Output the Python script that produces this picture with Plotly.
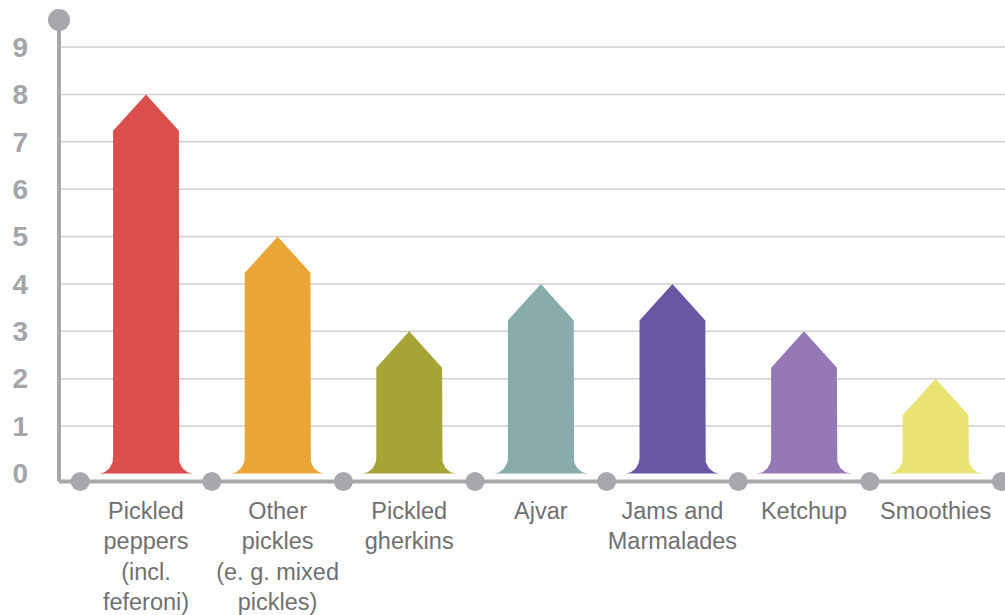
import math
import plotly.graph_objects as go

# Chart data
categories = [
    "Pickled<br>peppers<br>(incl.<br>feferoni)",
    "Other<br>pickles<br>(e. g. mixed<br>pickles)",
    "Pickled<br>gherkins",
    "Ajvar",
    "Jams and<br>Marmalades",
    "Ketchup",
    "Smoothies",
]
values = [8, 5, 3, 4, 4, 3, 2]
bar_colors = ["#DA4F4E", "#EAA537", "#A7A436", "#88ABAC", "#6957A5", "#9579B6", "#E9E372"]
y_ticks = list(range(0, 10))

AXIS_GREY = "#A7A8AB"
GRID_GREY = "#CFCFCF"

# Arrow-bar geometry (x in category units, y in value units)
HALF_W = 0.25      # half width of the bar body
TIP_H = 0.77       # height of the pointed tip
FLARE_X = 0.107    # horizontal reach of the rounded foot
FLARE_Y = 0.34     # vertical reach of the rounded foot
AXIS_Y = -0.17     # where the bottom axis line sits
X_RANGE = [-0.661, 6.527]
Y_RANGE = [-0.35, 9.57]


def arrow_outline(i, v, n=14):
    xs, ys = [], []
    # left foot: concave fillet from the floor up to the body edge
    cx, cy = i - HALF_W - FLARE_X, FLARE_Y
    for k in range(n + 1):
        t = math.pi / 2 * k / n
        xs.append(cx + FLARE_X * math.sin(t))
        ys.append(cy - FLARE_Y * math.cos(t))
    # body and tip
    xs += [i - HALF_W, i, i + HALF_W]
    ys += [v - TIP_H, v, v - TIP_H]
    # right foot
    cx = i + HALF_W + FLARE_X
    for k in range(n + 1):
        t = math.pi / 2 * k / n
        xs.append(cx - FLARE_X * math.cos(t))
        ys.append(cy - FLARE_Y * math.sin(t))
    xs.append(xs[0])
    ys.append(ys[0])
    return xs, ys


fig = go.Figure()

for i, (v, c) in enumerate(zip(values, bar_colors)):
    xs, ys = arrow_outline(i, v)
    fig.add_trace(go.Scatter(
        x=xs, y=ys, mode="lines", fill="toself",
        fillcolor=c, line=dict(width=0, color=c),
        hoverinfo="skip", showlegend=False,
    ))

# horizontal grid lines
shapes = []
for t in y_ticks[1:]:
    shapes.append(dict(type="line", xref="paper", x0=0, x1=1, yref="y", y0=t, y1=t,
                       line=dict(color=GRID_GREY, width=1.5), layer="below"))
# value axis line
shapes.append(dict(type="line", xref="paper", x0=0, x1=0, yref="y", y0=AXIS_Y, y1=Y_RANGE[1],
                   line=dict(color=AXIS_GREY, width=4)))
# category axis line
shapes.append(dict(type="line", xref="x", x0=X_RANGE[0], x1=len(values) - 0.5,
                   yref="y", y0=AXIS_Y, y1=AXIS_Y, line=dict(color=AXIS_GREY, width=4)))

# dots on the bottom axis between categories
sep_x = [k - 0.5 for k in range(len(values) + 1)]
fig.add_trace(go.Scatter(
    x=sep_x, y=[AXIS_Y] * len(sep_x), mode="markers",
    marker=dict(size=19, color=AXIS_GREY, line=dict(width=0)),
    cliponaxis=False, hoverinfo="skip", showlegend=False,
))
# dot at the top of the value axis
fig.add_trace(go.Scatter(
    x=[X_RANGE[0]], y=[Y_RANGE[1]], mode="markers",
    marker=dict(size=22, color=AXIS_GREY, line=dict(width=0)),
    cliponaxis=False, hoverinfo="skip", showlegend=False,
))

fig.update_layout(
    width=1005, height=615,
    margin=dict(l=59, r=0, t=20, b=125),
    paper_bgcolor="white", plot_bgcolor="white",
    shapes=shapes,
    xaxis=dict(
        range=X_RANGE, showgrid=False, zeroline=False, showline=False,
        tickmode="array", tickvals=list(range(len(categories))), ticktext=categories,
        tickfont=dict(family="Liberation Sans, Arial, sans-serif", size=23.5, color="#707070"),
        ticks="", ticklabelstandoff=4,
    ),
    yaxis=dict(
        range=Y_RANGE, showgrid=False, zeroline=False, showline=False,
        tickmode="array", tickvals=y_ticks, ticktext=[str(t) for t in y_ticks],
        tickfont=dict(family="Liberation Sans, Arial, sans-serif", size=28,
                      color="#A4A5A8", weight="bold"),
        ticks="", ticklabelstandoff=30,
    ),
)

fig.write_html("out.html")
